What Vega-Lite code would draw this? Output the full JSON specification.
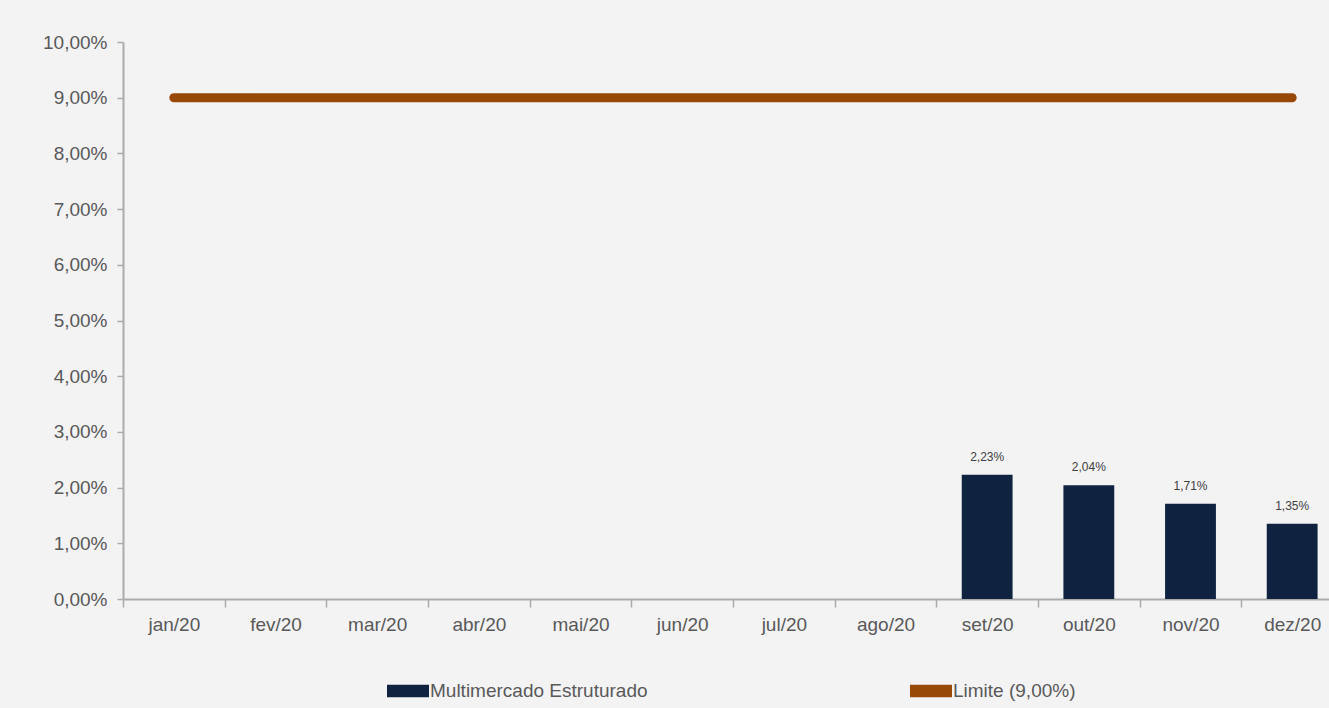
{
  "$schema": "https://vega.github.io/schema/vega-lite/v6.json",
  "width": 1206,
  "height": 557,
  "autosize": {"type": "none"},
  "padding": {"left": 123, "top": 42, "right": 0, "bottom": 109},
  "background": "#f3f3f4",
  "config": {
    "locale": {"number": {"decimal": ",", "thousands": ".", "grouping": [3], "currency": ["R$", ""]}},
    "view": {"stroke": null},
    "font": "Liberation Sans",
    "axis": {"grid": false, "domainColor": "#ababab", "domainWidth": 2, "tickColor": "#ababab", "tickWidth": 1.5, "labelColor": "#595959", "labelFont": "Liberation Sans", "title": null}
  },
  "data": {
    "values": [
      {"mes": "jan/20", "valor": null, "limite": 0.09},
      {"mes": "fev/20", "valor": null, "limite": 0.09},
      {"mes": "mar/20", "valor": null, "limite": 0.09},
      {"mes": "abr/20", "valor": null, "limite": 0.09},
      {"mes": "mai/20", "valor": null, "limite": 0.09},
      {"mes": "jun/20", "valor": null, "limite": 0.09},
      {"mes": "jul/20", "valor": null, "limite": 0.09},
      {"mes": "ago/20", "valor": null, "limite": 0.09},
      {"mes": "set/20", "valor": 0.0223, "limite": 0.09},
      {"mes": "out/20", "valor": 0.0204, "limite": 0.09},
      {"mes": "nov/20", "valor": 0.0171, "limite": 0.09},
      {"mes": "dez/20", "valor": 0.0135, "limite": 0.09}
    ]
  },
  "encoding": {
    "x": {
      "field": "mes",
      "type": "nominal",
      "sort": ["jan/20", "fev/20", "mar/20", "abr/20", "mai/20", "jun/20", "jul/20", "ago/20", "set/20", "out/20", "nov/20", "dez/20"],
      "scale": {"paddingInner": 0, "paddingOuter": 0, "range": [0, 1220]},
      "axis": {"labelAngle": 0, "labelFontSize": 19, "tickSize": 8, "tickBand": "extent", "labelPadding": 8}
    }
  },
  "layer": [
    {
      "mark": {"type": "bar", "width": {"band": 0.5}},
      "encoding": {
        "y": {
          "field": "valor",
          "type": "quantitative",
          "scale": {"domain": [0, 0.1], "nice": false},
          "axis": {"format": ".2%", "values": [0, 0.01, 0.02, 0.03, 0.04, 0.05, 0.06, 0.07, 0.08, 0.09, 0.1], "tickSize": 6, "labelFontSize": 19, "labelPadding": 10}
        },
        "color": {
          "datum": "Multimercado Estruturado",
          "type": "nominal",
          "scale": {"domain": ["Multimercado Estruturado", "Limite (9,00%)"], "range": ["#0f2341", "#984807"]},
          "legend": {
            "title": null,
            "orient": "none",
            "legendX": 264,
            "legendY": 628,
            "direction": "horizontal",
            "padding": 0,
            "columnPadding": 262,
            "symbolType": "M-1,-0.3L1,-0.3L1,0.3L-1,0.3Z",
            "symbolSize": 1764,
            "symbolStrokeWidth": 0,
            "symbolOpacity": 1,
            "labelFontSize": 19,
            "labelLimit": 400,
            "labelColor": "#595959",
            "labelOffset": 1
          }
        }
      }
    },
    {
      "mark": {"type": "text", "baseline": "bottom", "dy": -11, "fontSize": 12, "color": "#404040"},
      "encoding": {
        "y": {"field": "valor", "type": "quantitative"},
        "text": {"field": "valor", "type": "quantitative", "format": ".2%"}
      }
    },
    {
      "mark": {"type": "line", "strokeWidth": 9, "strokeCap": "round"},
      "encoding": {
        "y": {"field": "limite", "type": "quantitative"},
        "color": {"datum": "Limite (9,00%)", "type": "nominal"}
      }
    }
  ]
}
